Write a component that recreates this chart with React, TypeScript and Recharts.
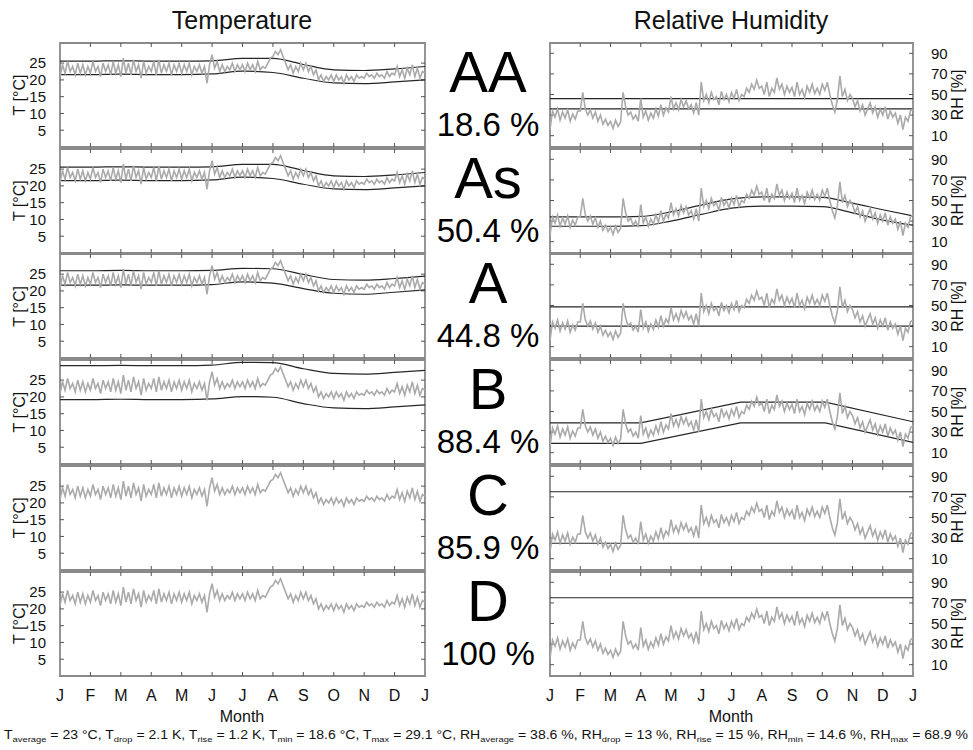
import React from 'react';
import { LineChart, Line, XAxis, YAxis, ReferenceLine, ReferenceArea } from 'recharts';

const monthLabels = ['J', 'F', 'M', 'A', 'M', 'J', 'J', 'A', 'S', 'O', 'N', 'D', 'J'];
const monthTicks = [0, 1, 2, 3, 4, 5, 6, 7, 8, 9, 10, 11, 12];
const tempTicks = [5, 10, 15, 20, 25];
const rhTicks = [10, 30, 50, 70, 90];

const classNames = ['AA', 'As', 'A', 'B', 'C', 'D'];
const classShares = ['18.6 %', '50.4 %', '44.8 %', '88.4 %', '85.9 %', '100 %'];

// measured room temperature, 12 samples per month
const tempValues = [
  21.0, 24.5, 22.0, 25.5, 22.5, 24.0, 21.5, 25.0, 22.0, 24.5, 21.5, 24.0,
  22.0, 25.5, 22.5, 24.0, 21.0, 25.0, 22.5, 24.5, 21.5, 25.5, 22.0, 24.5,
  21.0, 26.5, 22.0, 25.0, 21.5, 26.0, 22.5, 24.5, 20.5, 25.5, 22.0, 24.0,
  22.5, 25.5, 21.5, 26.0, 22.0, 24.5, 22.5, 25.0, 21.5, 24.5, 22.5, 25.0,
  22.0, 24.5, 22.5, 25.0, 21.5, 24.0, 22.5, 24.5, 22.0, 24.0, 19.0, 24.5,
  27.5, 23.5, 25.5, 22.5, 24.5, 22.5, 24.0, 23.0, 25.0, 22.5, 24.5, 23.0,
  24.5, 22.5, 25.0, 23.0, 24.5, 22.5, 25.5, 23.0, 24.0, 23.5, 25.0, 26.5,
  27.0, 28.5, 27.5, 29.0, 27.0, 25.0, 23.0, 24.5, 22.0, 24.0, 22.5, 25.0,
  23.0, 25.0, 22.5, 24.0, 21.5, 23.0, 20.0, 21.5, 19.5, 21.0, 20.0, 21.5,
  19.5, 21.5, 20.0, 21.0, 19.0, 21.5, 20.0, 21.0, 19.5, 21.5, 20.5, 21.0,
  20.5, 22.0, 21.0, 21.5, 20.5, 22.0, 21.0, 21.5, 20.5, 22.5, 21.0, 22.0,
  21.5, 24.0, 21.0, 23.0, 20.5, 23.5, 21.5, 24.5, 21.0, 23.5, 20.5, 22.5,
  22.0,
];

// measured relative humidity, 12 samples per month
const rhValues = [
  16, 34, 28, 36, 25, 33, 27, 35, 24, 31, 26, 34,
  34, 52, 36, 30, 35, 27, 33, 24, 30, 21, 26, 20,
  24, 17, 25, 19, 23, 52, 38, 30, 33, 26, 30, 24,
  46, 28, 34, 25, 32, 27, 36, 29, 40, 30, 37, 33,
  48, 36, 42, 35, 45, 38, 44, 36, 40, 32, 42, 30,
  62, 44, 50, 42, 52, 45, 48, 40, 53, 45, 50, 43,
  52, 46, 55, 44, 50, 48, 56, 52, 60, 55, 64, 56,
  58, 50, 62, 48, 56, 52, 66, 55, 60, 50, 58, 52,
  57, 48, 62, 50, 55, 47, 58, 52, 60, 51, 56, 50,
  60, 54, 62, 50, 40, 33, 45, 68, 48, 55, 44, 50,
  46, 38, 44, 34, 40, 30, 36, 42, 32, 38, 28, 36,
  30, 38, 26, 34, 28, 32, 22, 30, 16, 28, 24, 34,
  36,
];

// comfort band limits per class
const envMonths = [0, 1, 2, 3, 4, 5, 6, 7, 8, 9, 10, 11, 12];
const tUpperAA = [25.6, 25.6, 25.7, 25.6, 25.6, 25.7, 26.4, 26.4, 24.6, 23.0, 22.8, 23.3, 24.0];
const tLowerAA = [21.6, 21.6, 21.7, 21.6, 21.6, 21.8, 22.6, 22.2, 20.5, 19.1, 18.9, 19.4, 20.0];
const tUpperA = [26.0, 26.0, 26.1, 26.0, 26.0, 26.1, 26.7, 26.6, 24.9, 23.4, 23.2, 23.7, 24.4];
const tLowerA = [21.7, 21.7, 21.8, 21.7, 21.7, 21.9, 22.7, 22.3, 20.7, 19.3, 19.0, 19.6, 20.3];
const tUpperB = [29.3, 29.3, 29.4, 29.3, 29.3, 29.5, 30.3, 30.2, 28.4, 27.0, 26.8, 27.3, 27.9];
const tLowerB = [19.2, 19.2, 19.3, 19.2, 19.2, 19.4, 20.1, 19.9, 18.0, 16.7, 16.5, 17.0, 17.6];

const rhUpperAs = [34, 34, 34, 34.5, 39, 45.5, 51.5, 53.5, 53.5, 53, 47.5, 41, 35];
const rhLowerAs = [25, 25, 25, 25.5, 30, 36.5, 42.5, 44.5, 44.5, 44, 38, 31, 26];
const rhMonthsB = [0, 3, 6.3, 9.1, 12];
const rhUpperB = [39, 39, 59, 59, 40];
const rhLowerB = [19, 19, 39, 39, 20];
const rhLimitsAA = [46, 36];
const rhLimitsA = [48.6, 30];
const rhLimitsC = [75, 25];
const rhLimitsD = [75];

const toPoints = (xs: number[], ys: number[]) => xs.map((m, i) => ({ m, v: ys[i] }));
const tempSeries = tempValues.map((v, i) => ({ m: i / 12, v }));
const rhSeries = rhValues.map((v, i) => ({ m: i / 12, v }));

type Band = { upper: { m: number; v: number }[]; lower: { m: number; v: number }[]; linear?: boolean } | null;

const tempBands: Band[] = [
  { upper: toPoints(envMonths, tUpperAA), lower: toPoints(envMonths, tLowerAA) },
  { upper: toPoints(envMonths, tUpperAA), lower: toPoints(envMonths, tLowerAA) },
  { upper: toPoints(envMonths, tUpperA), lower: toPoints(envMonths, tLowerA) },
  { upper: toPoints(envMonths, tUpperB), lower: toPoints(envMonths, tLowerB) },
  null,
  null,
];
const rhBands: Band[] = [
  null,
  { upper: toPoints(envMonths, rhUpperAs), lower: toPoints(envMonths, rhLowerAs) },
  null,
  { upper: toPoints(rhMonthsB, rhUpperB), lower: toPoints(rhMonthsB, rhLowerB), linear: true },
  null,
  null,
];
const rhLimits: number[][] = [rhLimitsAA, [], rhLimitsA, [], rhLimitsC, rhLimitsD];

const TOP = 43;
const STEP = 105.7;
const PH = 104;
const FONT = '"Liberation Sans", Arial, sans-serif';
const frameColor = '#8a8a8a';
const tickText = { fill: '#111', fontSize: 15 };
const grey = '#aaaaaa';
const dark = '#262626';
const tickColor = '#555';

function Panel({ k, kind }: { k: number; kind: 'T' | 'RH' }) {
  const last = k === 5;
  const isT = kind === 'T';
  const top = TOP + k * STEP;
  const band = isT ? tempBands[k] : rhBands[k];
  const domain = isT ? [0, 31] : [-1, 100];
  const [y0, y1] = domain;
  const yTicks = isT ? tempTicks : rhTicks;
  const yId = isT ? 'l' : 'r';
  // inward tick length in data units (~4px)
  const yLen = ((y1 - y0) * 4) / PH;
  const xLen = (12 * 4) / 365;
  const xCommon = {
    dataKey: 'm',
    type: 'number' as const,
    domain: [0, 12],
    ticks: monthTicks,
    interval: 0,
    allowDataOverflow: true,
  };
  const yCommon = {
    type: 'number' as const,
    domain,
    ticks: yTicks,
    interval: 0,
    allowDataOverflow: true,
  };
  return (
    <div style={{ position: 'absolute', left: isT ? 0 : 540, top: top - 1 }}>
      <LineChart
        width={isT ? 440 : 433}
        height={PH + 2 + (last ? 30 : 0)}
        margin={{ top: 1, right: 0, bottom: 1, left: 0 }}
        data={isT ? tempSeries : rhSeries}
      >
        <XAxis
          {...xCommon}
          xAxisId="b"
          height={last ? 30 : 0}
          tickMargin={8}
          axisLine={false}
          tickLine={false}
          tick={last ? { fill: '#111', fontSize: 16 } : false}
          tickFormatter={(v: number) => monthLabels[v]}
        />
        <YAxis
          {...yCommon}
          yAxisId="l"
          width={isT ? 60 : 10}
          tickMargin={8}
          axisLine={false}
          tickLine={false}
          tick={isT ? tickText : false}
        />
        <YAxis
          {...yCommon}
          yAxisId="r"
          orientation="right"
          width={isT ? 15 : 60}
          tickMargin={12}
          axisLine={false}
          tickLine={false}
          tick={isT ? false : tickText}
        />
        {/* panel frame */}
        <ReferenceArea
          xAxisId="b"
          yAxisId={yId}
          x1={0}
          x2={12}
          y1={y0}
          y2={y1}
          fill="none"
          fillOpacity={0}
          stroke={frameColor}
          strokeWidth={1.8}
          ifOverflow="visible"
        />
        {/* inward tick marks */}
        {monthTicks.slice(1, -1).map((m) => (
          <ReferenceLine
            key={'xb' + m}
            xAxisId="b"
            yAxisId={yId}
            segment={[{ x: m, y: y0 }, { x: m, y: y0 + yLen }]}
            stroke={tickColor}
          />
        ))}
        {monthTicks.slice(1, -1).map((m) => (
          <ReferenceLine
            key={'xt' + m}
            xAxisId="b"
            yAxisId={yId}
            segment={[{ x: m, y: y1 }, { x: m, y: y1 - yLen }]}
            stroke={tickColor}
          />
        ))}
        {yTicks.map((t) => (
          <ReferenceLine
            key={'yl' + t}
            xAxisId="b"
            yAxisId={yId}
            segment={[{ x: 0, y: t }, { x: xLen, y: t }]}
            stroke={tickColor}
          />
        ))}
        {yTicks.map((t) => (
          <ReferenceLine
            key={'yr' + t}
            xAxisId="b"
            yAxisId={yId}
            segment={[{ x: 12, y: t }, { x: 12 - xLen, y: t }]}
            stroke={tickColor}
          />
        ))}
        {!isT &&
          rhLimits[k].map((y) => (
            <ReferenceLine key={'lim' + y} xAxisId="b" yAxisId="r" y={y} stroke={dark} strokeWidth={1.2} />
          ))}
        {band && (
          <Line
            xAxisId="b"
            yAxisId={yId}
            data={band.upper}
            dataKey="v"
            type={band.linear ? 'linear' : 'monotone'}
            stroke={dark}
            strokeWidth={1.2}
            dot={false}
            isAnimationActive={false}
          />
        )}
        {band && (
          <Line
            xAxisId="b"
            yAxisId={yId}
            data={band.lower}
            dataKey="v"
            type={band.linear ? 'linear' : 'monotone'}
            stroke={dark}
            strokeWidth={1.2}
            dot={false}
            isAnimationActive={false}
          />
        )}
        <Line
          xAxisId="b"
          yAxisId={yId}
          dataKey="v"
          type="linear"
          stroke={grey}
          strokeWidth={1.6}
          dot={false}
          isAnimationActive={false}
        />
      </LineChart>
    </div>
  );
}

const sub = (s: string) => (
  <>
    <tspan fontSize={8} dy={3}>{s}</tspan>
    <tspan dy={-3}> </tspan>
  </>
);

export default function App() {
  const rows = [0, 1, 2, 3, 4, 5];
  return (
    <div
      style={{
        position: 'absolute',
        left: 0,
        top: 0,
        width: 973,
        height: 750,
        background: '#fff',
        fontFamily: FONT,
        overflow: 'hidden',
      }}
    >
      {rows.map((k) => (
        <Panel key={'t' + k} k={k} kind="T" />
      ))}
      {rows.map((k) => (
        <Panel key={'h' + k} k={k} kind="RH" />
      ))}
      <svg
        width={973}
        height={750}
        style={{ position: 'absolute', left: 0, top: 0, pointerEvents: 'none', fontFamily: FONT }}
      >
        <text x={242} y={29} textAnchor="middle" fontSize={25} fill="#111">Temperature</text>
        <text x={731} y={29} textAnchor="middle" fontSize={25} fill="#111">Relative Humidity</text>
        {rows.map((k) => {
          const top = TOP + k * STEP;
          const cy = top + PH / 2;
          return (
            <g key={'lab' + k}>
              <text x={488} y={top + 49} textAnchor="middle" fontSize={58} fill="#000">{classNames[k]}</text>
              <text x={488} y={top + 93} textAnchor="middle" fontSize={33} fill="#000">{classShares[k]}</text>
              <text transform={`translate(25, ${cy}) rotate(-90)`} textAnchor="middle" fontSize={16} fill="#111">
                T [°C]
              </text>
              <text transform={`translate(963, ${cy}) rotate(-90)`} textAnchor="middle" fontSize={16} fill="#111">
                RH [%]
              </text>
            </g>
          );
        })}
        <text x={242} y={722} textAnchor="middle" fontSize={16} fill="#111">Month</text>
        <text x={731} y={722} textAnchor="middle" fontSize={16} fill="#111">Month</text>
        <text x={4} y={739} fontSize={12} fill="#111" textLength={964} lengthAdjust="spacingAndGlyphs">
          T{sub('average')}= 23 °C, T{sub('drop')}= 2.1 K, T{sub('rise')}= 1.2 K, T{sub('min')}= 18.6 °C, T
          {sub('max')}= 29.1 °C, RH{sub('average')}= 38.6 %, RH{sub('drop')}= 13 %, RH{sub('rise')}= 15 %, RH
          {sub('min')}= 14.6 %, RH{sub('max')}= 68.9 %
        </text>
      </svg>
    </div>
  );
}
